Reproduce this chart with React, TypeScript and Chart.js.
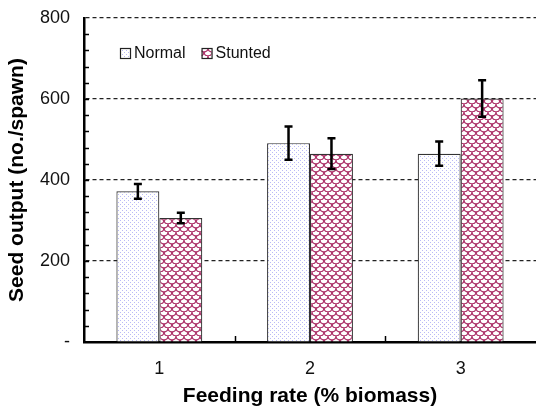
import React, { useEffect, useRef } from "react";
import { Chart, registerables } from "chart.js";

Chart.register(...registerables);

const categories = ["1", "2", "3"];
const normalValues = [372, 491, 465];
const normalErrors = [18, 41, 30];
const stuntedValues = [306, 465, 601];
const stuntedErrors = [13, 38, 45];
const yMajorStep = 200;
const yMinorStep = 40;
const yMax = 800;
const seriesNames = ["Normal", "Stunted"];

const FONT = "'Liberation Sans', Arial, Helvetica, sans-serif";

function makeDotPattern(): CanvasPattern | string {
  const c = document.createElement("canvas");
  c.width = 4;
  c.height = 4;
  const g = c.getContext("2d");
  if (!g) return "#fff";
  g.fillStyle = "#ffffff";
  g.fillRect(0, 0, 4, 4);
  g.fillStyle = "rgba(140,140,240,0.6)";
  g.fillRect(0, 0, 1, 1);
  g.fillRect(2, 2, 1, 1);
  return g.createPattern(c, "repeat") || "#fff";
}

function makeScalePattern(): CanvasPattern | string {
  const c = document.createElement("canvas");
  c.width = 8;
  c.height = 8;
  const g = c.getContext("2d");
  if (!g) return "#fff";
  g.fillStyle = "#ffffff";
  g.fillRect(0, 0, 8, 8);
  g.strokeStyle = "rgb(172,50,105)";
  g.lineWidth = 1.4;
  const arcs = [
    [4, 0],
    [0, 4],
    [8, 4],
    [4, 8],
  ];
  for (const [cx, cy] of arcs) {
    g.beginPath();
    g.arc(cx, cy, 4, 0, Math.PI);
    g.stroke();
  }
  return g.createPattern(c, "repeat") || "#fff";
}

export default function App() {
  const ref = useRef<HTMLCanvasElement | null>(null);

  useEffect(() => {
    document.body.style.margin = "0";
    const canvas = ref.current;
    if (!canvas) return;
    const dots = makeDotPattern();
    const scales = makeScalePattern();
    const errors = [normalErrors, stuntedErrors];
    const fills = [dots, scales];

    const errorBars = {
      id: "errorBars",
      afterDatasetsDraw(chart: any) {
        const ctx = chart.ctx;
        const y = chart.scales.y;
        ctx.save();
        ctx.strokeStyle = "#000";
        ctx.lineWidth = 2.5;
        chart.data.datasets.forEach((ds: any, di: number) => {
          const meta = chart.getDatasetMeta(di);
          meta.data.forEach((el: any, i: number) => {
            const v = ds.data[i];
            const e = errors[di][i];
            const x = el.x;
            const t = y.getPixelForValue(v + e);
            const b = y.getPixelForValue(v - e);
            ctx.beginPath();
            ctx.moveTo(x, t);
            ctx.lineTo(x, b);
            ctx.moveTo(x - 4, t);
            ctx.lineTo(x + 4, t);
            ctx.moveTo(x - 4, b);
            ctx.lineTo(x + 4, b);
            ctx.stroke();
          });
        });
        ctx.restore();
      },
    };

    const extras = {
      id: "extras",
      afterDraw(chart: any) {
        const ctx = chart.ctx;
        const { left, right, bottom, top } = chart.chartArea;
        const y = chart.scales.y;
        ctx.save();
        ctx.strokeStyle = "#000";
        ctx.lineWidth = 1.5;
        for (let v = yMinorStep; v < yMax; v += yMinorStep) {
          const py = Math.round(y.getPixelForValue(v)) + 0.5;
          ctx.beginPath();
          ctx.moveTo(left, py);
          ctx.lineTo(left + 5, py);
          ctx.stroke();
        }
        const n = categories.length;
        const cw = (right - left) / n;
        for (let k = 1; k < n; k++) {
          const px = Math.round(left + k * cw) + 0.5;
          ctx.beginPath();
          ctx.moveTo(px, bottom);
          ctx.lineTo(px, bottom - 6);
          ctx.stroke();
        }
        const lx = left + 36;
        const ly = top + 30;
        ctx.font = `16px ${FONT}`;
        ctx.textBaseline = "middle";
        ctx.textAlign = "left";
        let x = lx;
        seriesNames.forEach((name, i) => {
          ctx.fillStyle = fills[i] as any;
          ctx.fillRect(x, ly, 10, 10);
          ctx.lineWidth = 1.2;
          ctx.strokeStyle = "#222";
          ctx.strokeRect(x + 0.5, ly + 0.5, 10, 10);
          ctx.fillStyle = "#111";
          ctx.fillText(name, x + 14, ly + 6);
          x += 14 + ctx.measureText(name).width + 16;
        });
        ctx.restore();
      },
    };

    const chart = new Chart(canvas, {
      type: "bar",
      data: {
        labels: categories,
        datasets: [
          {
            label: seriesNames[0],
            data: normalValues,
            backgroundColor: dots as any,
            borderColor: "#333",
            borderWidth: 1.2,
            categoryPercentage: 0.57,
            barPercentage: 1.0,
          },
          {
            label: seriesNames[1],
            data: stuntedValues,
            backgroundColor: scales as any,
            borderColor: "#333",
            borderWidth: 1.2,
            categoryPercentage: 0.57,
            barPercentage: 1.0,
          },
        ],
      },
      options: {
        animation: false,
        responsive: false,
        devicePixelRatio: 1,
        layout: { padding: { top: 18, right: 0, left: 0, bottom: 0 } },
        plugins: {
          legend: { display: false },
          tooltip: { enabled: false },
        },
        scales: {
          x: {
            type: "category",
            grid: { display: false, drawTicks: false },
            border: { display: true, color: "#000", width: 2.5 },
            ticks: {
              color: "#111",
              font: { family: FONT, size: 18 },
              padding: 16,
            },
            title: {
              display: true,
              text: "Feeding rate (% biomass)",
              color: "#000",
              font: { family: FONT, size: 21, weight: "bold", lineHeight: 1 },
              padding: { top: 0, bottom: 0 },
            },
            afterFit(scale: any) {
              scale.height = 65;
              scale.paddingLeft = 0;
              scale.paddingRight = 0;
            },
          },
          y: {
            min: 0,
            max: yMax,
            grid: {
              drawTicks: false,
              lineWidth: 1.2,
              color: (c: any) =>
                c.tick && c.tick.value > 0 && c.tick.value % yMajorStep === 0
                  ? "#222"
                  : "rgba(0,0,0,0)",
            },
            border: { display: true, color: "#000", width: 2.5, dash: [4, 3] },
            ticks: {
              stepSize: yMinorStep,
              autoSkip: false,
              color: "#111",
              font: { family: FONT, size: 18 },
              padding: 14,
              callback: (v: any) => {
                const n = Number(v);
                if (n === 0) return "-";
                return n % yMajorStep === 0 ? String(n) : "";
              },
            },
            title: {
              display: true,
              text: "Seed output (no./spawn)",
              color: "#000",
              font: { family: FONT, size: 21, weight: "bold", lineHeight: 1 },
              padding: { top: 7, bottom: 0 },
            },
            afterFit(scale: any) {
              scale.width = 84;
              scale.paddingTop = 0;
              scale.paddingBottom = 0;
            },
          },
        },
      },
      plugins: [errorBars, extras],
    });
    return () => chart.destroy();
  }, []);

  return (
    <div style={{ width: 536, height: 407 }}>
      <canvas ref={ref} width={536} height={407} />
    </div>
  );
}
